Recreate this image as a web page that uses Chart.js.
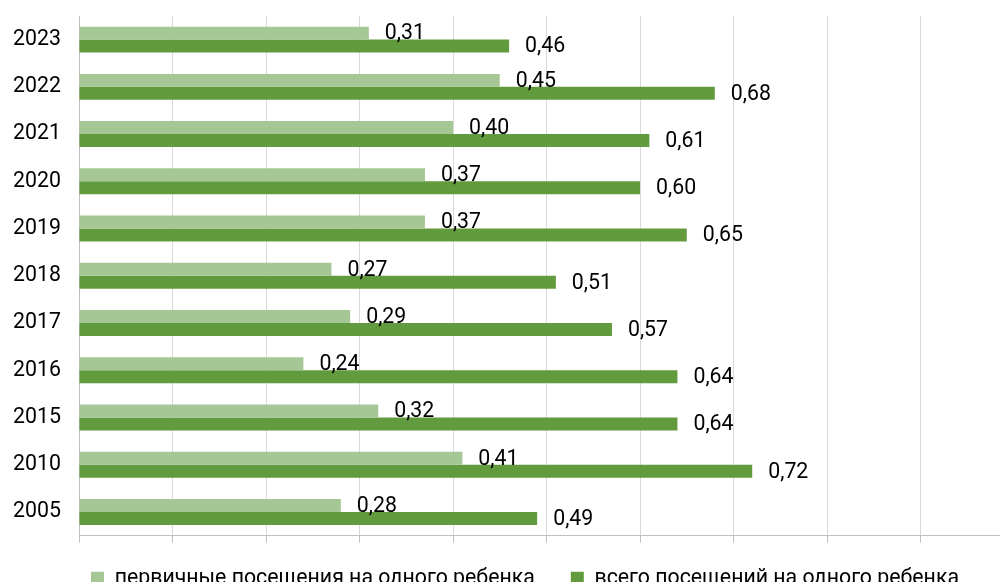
<!DOCTYPE html>
<html>
<head>
<meta charset="utf-8">
<script src="https://cdn.jsdelivr.net/npm/chart.js@4"></script>
<style>
  html, body { margin: 0; padding: 0; background: #fff; overflow: hidden; }
  #mycanvas { display: block; }
</style>
</head>
<body>
<canvas id="mycanvas" width="1000" height="603"></canvas>
<script>
var years = ['2023', '2022', '2021', '2020', '2019', '2018', '2017', '2016', '2015', '2010', '2005'];
var primaryVisits = [0.31, 0.45, 0.40, 0.37, 0.37, 0.27, 0.29, 0.24, 0.32, 0.41, 0.28];
var totalVisits = [0.46, 0.68, 0.61, 0.60, 0.65, 0.51, 0.57, 0.64, 0.64, 0.72, 0.49];

var FONT = 'Roboto, "Noto Sans", sans-serif';
var FSIZE = 21.3;

// value labels to the right of each bar, decimal comma
var barLabels = {
	id: 'barLabels',
	afterDatasetsDraw: function(chart) {
		var ctx = chart.ctx;
		ctx.save();
		ctx.font = FSIZE + 'px ' + FONT;
		ctx.fillStyle = '#000';
		ctx.textAlign = 'left';
		ctx.textBaseline = 'middle';
		chart.data.datasets.forEach(function(ds, i) {
			chart.getDatasetMeta(i).data.forEach(function(bar, j) {
				ctx.fillText(ds.data[j].toFixed(2).replace('.', ','), bar.x + 16, bar.y + 1);
			});
		});
		ctx.restore();
	}
};

// legend in the original sits right of centre and is cut by the bottom edge
var legendShift = {
	id: 'legendShift',
	afterLayout: function(chart) {
		chart.legend.left += 50;
		chart.legend.top += 3;
	}
};

var chartdata = {
	labels: years,
	datasets: [
		{
			label: 'первичные посещения на одного ребенка',
			backgroundColor: '#a5c795',
			data: primaryVisits
		},
		{
			label: 'всего посещений на одного ребенка',
			backgroundColor: '#629b3e',
			data: totalVisits
		}
	]
};

var ctx = document.getElementById('mycanvas');

var barGraph = new Chart(ctx, {
	type: 'bar',
	data: chartdata,
	plugins: [barLabels, legendShift],
	options: {
		indexAxis: 'y',
		responsive: false,
		animation: false,
		categoryPercentage: 0.55,
		barPercentage: 1.0,
		layout: { padding: { top: 16, left: 0, right: 0, bottom: 0 } },
		scales: {
			x: {
				min: 0,
				max: 0.985,
				ticks: { display: false, stepSize: 0.1, includeBounds: false },
				grid: { color: '#d9d9d9', tickColor: '#bfbfbf', tickLength: 7 },
				border: { color: '#bfbfbf', width: 1 },
				afterFit: function(scale) { scale.height = -7; }
			},
			y: {
				ticks: { color: '#000', padding: 0, font: { family: FONT, size: FSIZE } },
				grid: { display: false, drawTicks: true, tickLength: 18 },
				border: { color: '#bfbfbf', width: 1 },
				afterFit: function(scale) { scale.width = 79; }
			}
		},
		plugins: {
			tooltip: { enabled: false },
			legend: {
				position: 'bottom',
				labels: {
					color: '#000',
					boxWidth: 13,
					boxHeight: 13,
					padding: 36,
					font: { family: FONT, size: FSIZE }
				}
			}
		}
	}
});
</script>
</body>
</html>
